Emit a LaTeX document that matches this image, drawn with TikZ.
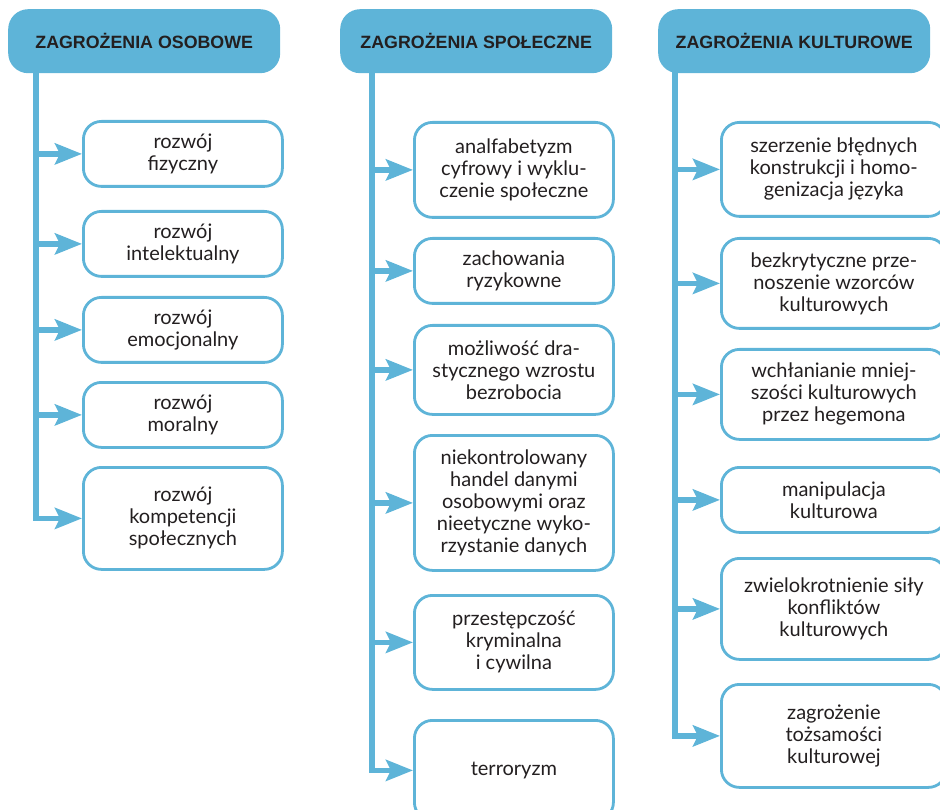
\documentclass[tikz,border=0pt]{standalone}
\usepackage{fontspec}
\setmainfont{Lato}
\newfontfamily\headfont{Liberation Sans}
\usetikzlibrary{positioning, arrows.meta}
\definecolor{zblue}{RGB}{94,180,216}
\definecolor{ztext}{RGB}{35,31,32}

\tikzset{
  header/.style={fill=zblue, rounded corners=20pt, minimum width=272pt, minimum height=64pt, anchor=north west,
    text=ztext, font=\headfont\bfseries\fontsize{17.8}{20}\selectfont},
  item/.style={draw=zblue, line width=2.8pt, rounded corners=18pt, fill=white, anchor=north west,
    minimum width=199pt, align=center, text=ztext, font=\fontsize{20}{22}\selectfont},
  wide/.style={item, minimum width=225pt},
  link/.style={draw=zblue, line width=5.5pt, -{Stealth[length=27pt, width=21pt, inset=5pt]}},
}

\begin{document}
\begin{tikzpicture}[x=1pt, y=-1pt]

\useasboundingbox (0,0) rectangle (940,810);

\node[header] (osob) at (8,9) {ZAGROŻENIA OSOBOWE};
\node[header] (spol) at (340,9) {ZAGROŻENIA SPOŁECZNE};
\node[header] (kult) at (658,9) {ZAGROŻENIA KULTUROWE};

\coordinate (osobS) at (36,60);
\coordinate (spolS) at (372,60);
\coordinate (kultS) at (675,60);

\node[item, minimum height=65pt] (osob1) at (82,120) {rozwój\\fizyczny};
\node[item, minimum height=65pt] (osob2) at (82,210) {rozwój\\intelektualny};
\node[item, minimum height=65pt] (osob3) at (82,296) {rozwój\\emocjonalny};
\node[item, minimum height=65pt] (osob4) at (82,381) {rozwój\\moralny};
\node[item, minimum height=102pt] (osob5) at (82,466) {rozwój\\kompetencji\\społecznych};

\node[item, minimum height=95pt] (spol1) at (413,121) {analfabetyzm\\cyfrowy i wyklu-\\czenie społeczne};
\node[item, minimum height=65pt] (spol2) at (413,237) {zachowania\\ryzykowne};
\node[item, minimum height=89pt] (spol3) at (413,324) {możliwość dra-\\stycznego wzrostu\\bezrobocia};
\node[item, minimum height=135pt] (spol4) at (413,434) {niekontrolowany\\handel danymi\\osobowymi oraz\\nieetyczne wyko-\\rzystanie danych};
\node[item, minimum height=94pt] (spol5) at (413,594) {przestępczość\\kryminalna\\i cywilna};
\node[item, minimum height=100pt] (spol6) at (413,719) {terroryzm};

\node[wide, minimum height=94pt] (kult1) at (720,121) {szerzenie błędnych\\konstrukcji i homo-\\genizacja języka};
\node[wide, minimum height=90pt] (kult2) at (720,237) {bezkrytyczne prze-\\noszenie wzorców\\kulturowych};
\node[wide, minimum height=90pt] (kult3) at (720,348) {wchłanianie mniej-\\szości kulturowych\\przez hegemona};
\node[wide, minimum height=65pt] (kult4) at (720,466) {manipulacja\\kulturowa};
\node[wide, minimum height=101pt] (kult5) at (720,557) {zwielokrotnienie siły\\konfliktów\\kulturowych};
\node[wide, minimum height=103pt] (kult6) at (720,683) {zagrożenie\\tożsamości\\kulturowej};

\draw[link] (osobS) |- (osob5.west);
\draw[link] (osobS |- osob1.west) -- (osob1.west);
\draw[link] (osobS |- osob2.west) -- (osob2.west);
\draw[link] (osobS |- osob3.west) -- (osob3.west);
\draw[link] (osobS |- osob4.west) -- (osob4.west);

\draw[link] (spolS) |- (spol6.west);
\draw[link] (spolS |- spol1.west) -- (spol1.west);
\draw[link] (spolS |- spol2.west) -- (spol2.west);
\draw[link] (spolS |- spol3.west) -- (spol3.west);
\draw[link] (spolS |- spol4.west) -- (spol4.west);
\draw[link] (spolS |- spol5.west) -- (spol5.west);

\draw[link] (kultS) |- (kult6.west);
\draw[link] (kultS |- kult1.west) -- (kult1.west);
\draw[link] (kultS |- kult2.west) -- (kult2.west);
\draw[link] (kultS |- kult3.west) -- (kult3.west);
\draw[link] (kultS |- kult4.west) -- (kult4.west);
\draw[link] (kultS |- kult5.west) -- (kult5.west);

\end{tikzpicture}
\end{document}
